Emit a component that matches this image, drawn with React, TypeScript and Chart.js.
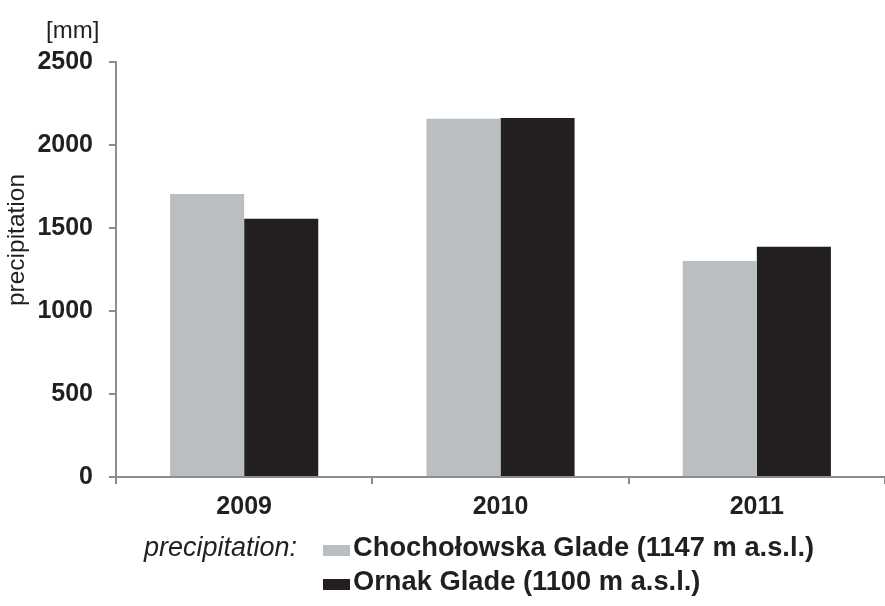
import React, { useEffect, useRef } from "react";
import { Chart, registerables } from "chart.js";

Chart.register(...registerables);

const years = ["2009", "2010", "2011"];
const chocholowska = [1705, 2158, 1301];
const ornak = [1555, 2163, 1387];
const yTicks = [0, 500, 1000, 1500, 2000, 2500];
const seriesNames = ["Chochołowska Glade (1147 m a.s.l.)", "Ornak Glade (1100 m a.s.l.)"];
const legendTitle = "precipitation:";
const yTitle = "precipitation";
const unit = "[mm]";

const FONT = "'Liberation Sans', Arial, sans-serif";
const GRAY = "#bbbec0";
const BLACK = "#231f20";
const AXIS = "#8c8c8c";

export default function App() {
  const ref = useRef<HTMLCanvasElement | null>(null);
  useEffect(() => {
    if (!ref.current) return;
    const textPlugin = {
      id: "texts",
      afterDraw(chart: any) {
        const ctx = chart.ctx as CanvasRenderingContext2D;
        ctx.save();
        ctx.fillStyle = BLACK;
        ctx.font = `24px ${FONT}`;
        ctx.textAlign = "left";
        ctx.textBaseline = "middle";
        ctx.fillText(unit, 46, 31);
        ctx.save();
        ctx.translate(17, 240);
        ctx.rotate(-Math.PI / 2);
        ctx.textAlign = "center";
        ctx.font = `24.5px ${FONT}`;
        ctx.fillText(yTitle, 0, 0);
        ctx.restore();
        ctx.font = `italic 27px ${FONT}`;
        ctx.textAlign = "right";
        ctx.textBaseline = "alphabetic";
        ctx.fillText(legendTitle, 297, 556);
        const colors = [GRAY, BLACK];
        ctx.font = `bold 27.3px ${FONT}`;
        ctx.textAlign = "left";
        seriesNames.forEach((n, i) => {
          const base = 556 + i * 34;
          ctx.fillStyle = colors[i];
          ctx.fillRect(323, base - 11, 27, 11);
          ctx.fillStyle = BLACK;
          ctx.fillText(n, 353, base);
        });
        ctx.restore();
      },
    };
    const chart = new Chart(ref.current, {
      type: "bar",
      data: {
        labels: years,
        datasets: [
          { label: seriesNames[0], data: chocholowska, backgroundColor: GRAY, categoryPercentage: 0.578, barPercentage: 1 },
          { label: seriesNames[1], data: ornak, backgroundColor: BLACK, categoryPercentage: 0.578, barPercentage: 1 },
        ],
      },
      options: {
        animation: false,
        responsive: false,
        devicePixelRatio: 1,
        layout: { padding: { top: 62, left: 0, right: 0, bottom: 0 } },
        plugins: { legend: { display: false }, tooltip: { enabled: false } },
        scales: {
          x: {
            grid: { display: true, drawOnChartArea: false, drawTicks: true, tickLength: 7, color: AXIS, lineWidth: 2, offset: true },
            border: { color: AXIS, width: 2 },
            ticks: { font: { family: FONT, size: 25, weight: "bold" }, color: BLACK, padding: 8 },
            afterFit: (s: any) => { s.height = 129; },
          },
          y: {
            min: 0,
            max: 2500,
            afterBuildTicks: (s: any) => { s.ticks = yTicks.map((v) => ({ value: v })); },
            grid: { drawOnChartArea: false, drawTicks: true, tickLength: 7, color: AXIS, lineWidth: 2 },
            border: { color: AXIS, width: 2 },
            ticks: { font: { family: FONT, size: 25, weight: "bold" }, color: BLACK, padding: 16, callback: (v: any) => String(v) },
            afterFit: (s: any) => { s.width = 116; },
          },
        },
      },
      plugins: [textPlugin],
    } as any);
    return () => chart.destroy();
  }, []);
  return (
    <div style={{ position: "absolute", left: 0, top: 0, width: 885, height: 606, background: "#fff" }}>
      <canvas ref={ref} width={885} height={606} />
    </div>
  );
}
